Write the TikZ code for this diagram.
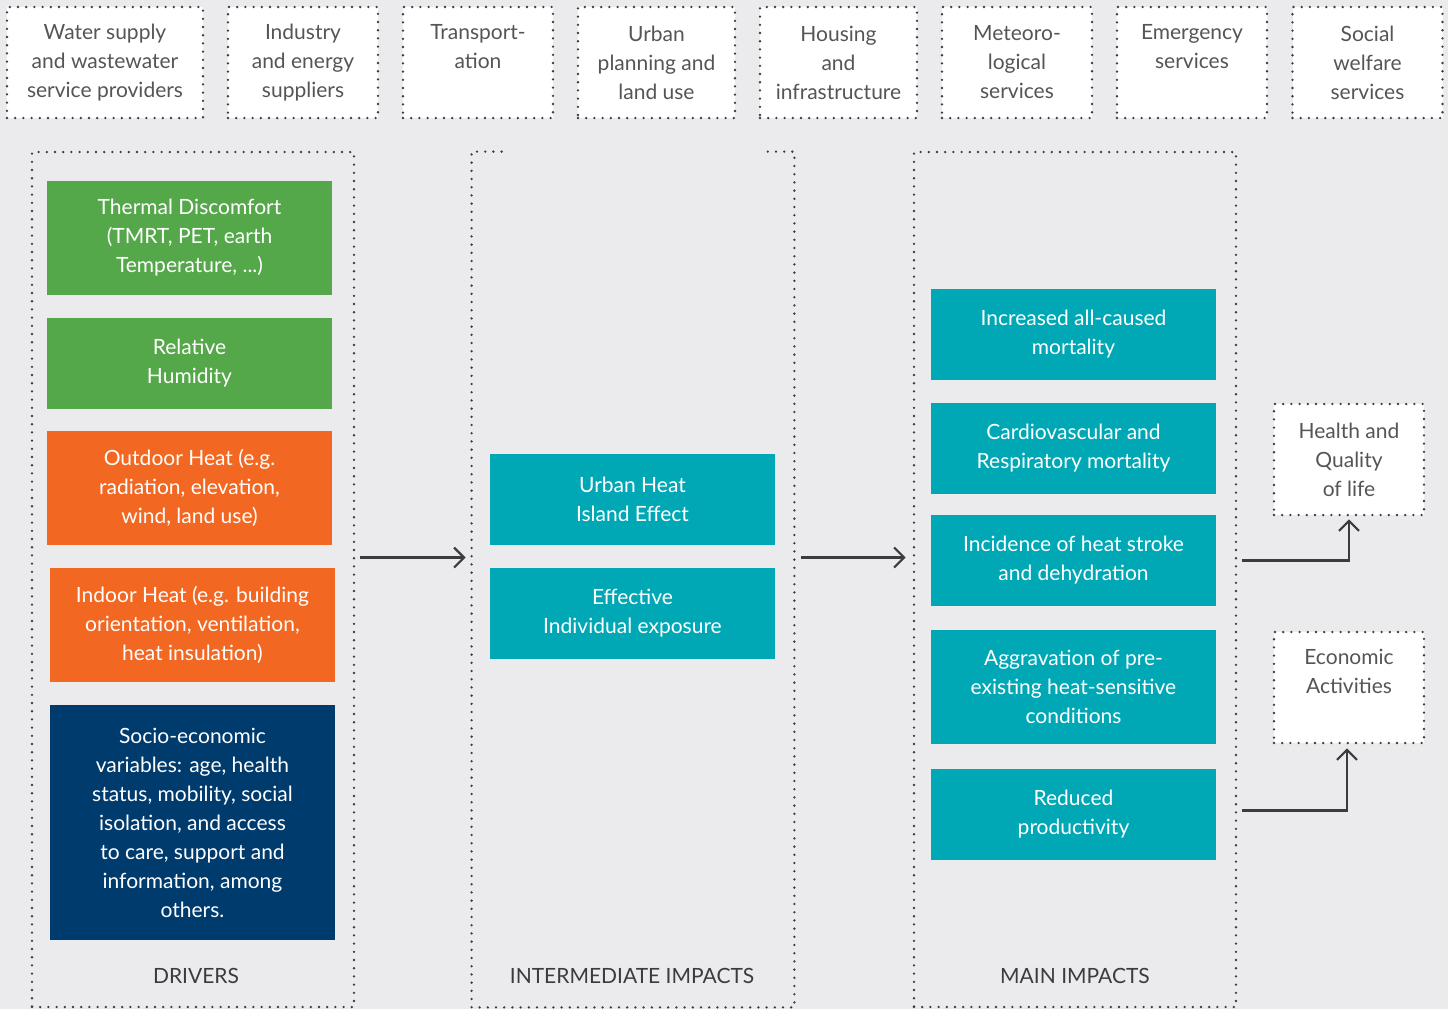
\documentclass[tikz,border=0pt]{standalone}
\usepackage{fontspec}
\setmainfont{Lato}
\usetikzlibrary{arrows.meta}
\definecolor{bg}{HTML}{EBEBED}
\definecolor{txt}{HTML}{555555}
\definecolor{ink}{HTML}{3C3C3C}
\definecolor{grn}{HTML}{55A84A}
\definecolor{org}{HTML}{F26722}
\definecolor{navy}{HTML}{003B6E}
\definecolor{teal}{HTML}{00A8B5}
\begin{document}
\begin{tikzpicture}[x=0.5pt, y=-0.5pt,
  dots/.style = {draw=ink, line width=1.3pt, line cap=round, dash pattern=on 0pt off 4.1pt},
  top/.style = {dots, fill=white, text=txt, align=center, inner sep=0pt, minimum width=75pt, minimum height=55.5pt, font=\fontsize{10.5}{14.5}\selectfont},
  col/.style = {minimum width=161pt, minimum height=427.5pt, inner sep=0pt},
  box/.style = {text=white, align=center, inner sep=0pt, minimum width=142.5pt, minimum height=45.5pt, font=\fontsize{10.5}{14.5}\selectfont},
  tall/.style = {box, minimum height=57pt},
  head/.style = {text=ink, font=\fontsize{10.5}{12}\selectfont},
  flow/.style = {draw=ink, line width=1.1pt, -{Straight Barb[length=5pt, width=10pt, line width=1.1pt]}}]
\fill[bg] (0,0) rectangle (1448,1009);
\useasboundingbox (0,0) rectangle (1448,1009);

\node[top, minimum width=98pt] (water) at (105,62.5) {Water supply\\and wastewater\\service providers};
\node[top] (industry) at (303,62.5) {Industry\\and energy\\suppliers};
\node[top] (transport) at (478,62.5) {Transport-\\ation\\\vphantom{p}};
\node[top, minimum width=78.5pt] (urban) at (656.5,62.5) {Urban\\planning and\\land use};
\node[top, minimum width=78.5pt] (housing) at (838.5,62.5) {Housing\\and\\infrastructure};
\node[top] (meteo) at (1017,62.5) {Meteoro-\\logical\\services};
\node[top] (emergency) at (1192,62.5) {Emergency\\services\\\vphantom{p}};
\node[top] (social) at (1367.5,62.5) {Social\\welfare\\services};

\node[col, dots] (drivers) at (193,579.5) {};
\node[col] (inter) at (633,579.5) {};
\node[col, dots] (main) at (1075,579.5) {};
\draw[dots] ([xshift=15pt]inter.north west) -- (inter.north west) -- (inter.south west) -- (inter.south east) -- (inter.north east) -- ([xshift=-15pt]inter.north east);

\node[tall, fill=grn] (thermal) at (189.5,238) {Thermal Discomfort\\(TMRT, PET, earth\\Temperature, ...)};
\node[box, fill=grn] (humidity) at (189.5,363.5) {Relative\\Humidity};
\node[tall, fill=org] (outdoor) at (189.5,488) {Outdoor Heat (e.g.\\radiation, elevation,\\wind, land use)};
\node[tall, fill=org] (indoor) at (192.5,625) {Indoor Heat (e.g. building\\orientation, ventilation,\\heat insulation)};
\node[box, fill=navy, minimum height=117.5pt] (socio) at (192.5,822.5) {Socio-economic\\variables: age, health\\status, mobility, social\\isolation, and access\\to care, support and\\information, among\\others.};

\node[box, fill=teal] (uhi) at (632.5,499.5) {Urban Heat\\Island Effect};
\node[box, fill=teal] (exposure) at (632.5,613.5) {Effective\\Individual exposure};

\node[box, fill=teal] (mortality) at (1073.5,334.5) {Increased all-caused\\mortality};
\node[box, fill=teal] (cardio) at (1073.5,448.5) {Cardiovascular and\\Respiratory mortality};
\node[box, fill=teal] (stroke) at (1073.5,560.5) {Incidence of heat stroke\\and dehydration};
\node[tall, fill=teal] (aggravation) at (1073.5,687) {Aggravation of pre-\\existing heat-sensitive\\conditions};
\node[box, fill=teal] (productivity) at (1073.5,814.5) {Reduced\\productivity};

\node[top] (health) at (1349,459.5) {Health and\\Quality\\of life};
\node[top] (economy) at (1349,687.5) {Economic\\Activities\\\vphantom{p}};

\node[head] (l1) at (196,976) {DRIVERS};
\node[head] (l2) at (632,976) {INTERMEDIATE IMPACTS};
\node[head] (l3) at (1075,976) {MAIN IMPACTS};

\coordinate (row) at (0,557.5);
\draw[flow, shorten <=2.5pt, shorten >=3pt] (drivers.east |- row) -- (inter.west |- row);
\draw[flow, shorten <=3.5pt, shorten >=3.5pt] (inter.east |- row) -- (main.west |- row);
\draw[flow, shorten <=2.5pt, shorten >=1.5pt] (main.east |- stroke) -| (health.south);
\draw[flow, shorten <=2.5pt, shorten >=2pt] ([yshift=2pt]main.east |- productivity) -| ([xshift=-1pt]economy.south);
\end{tikzpicture}
\end{document}
